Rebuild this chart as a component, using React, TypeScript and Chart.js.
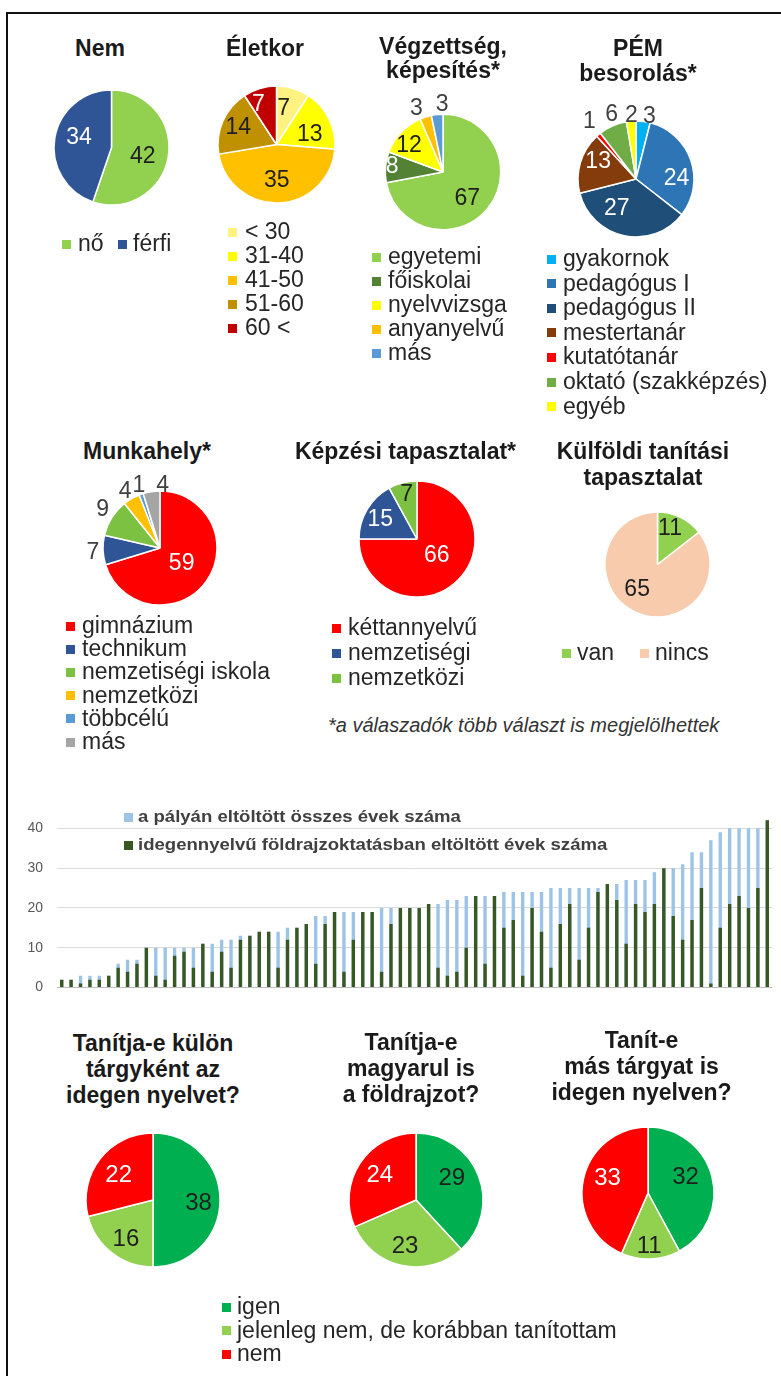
import React, { useEffect, useRef } from 'react';
import { Chart, registerables } from 'chart.js';

Chart.register(...registerables);

const FONT = '"Liberation Sans", Arial, Helvetica, sans-serif';
Chart.defaults.font.family = FONT;

// ---------- DATA ----------
const nemLabels = ['nő', 'férfi'];
const nemValues = [42, 34];

const eletkorLabels = ['< 30', '31-40', '41-50', '51-60', '60 <'];
const eletkorValues = [7, 13, 35, 14, 7];

const vegzLabels = ['egyetemi', 'főiskolai', 'nyelvvizsga', 'anyanyelvű', 'más'];
const vegzValues = [67, 8, 12, 3, 3];

const pemLabels = ['gyakornok', 'pedagógus I', 'pedagógus II', 'mestertanár', 'kutatótanár', 'oktató (szakképzés)', 'egyéb'];
const pemValues = [3, 24, 27, 13, 1, 6, 2];

const munkaLabels = ['gimnázium', 'technikum', 'nemzetiségi iskola', 'nemzetközi', 'többcélú', 'más'];
const munkaValues = [59, 7, 9, 4, 1, 4];

const kepzLabels = ['kéttannyelvű', 'nemzetiségi', 'nemzetközi'];
const kepzValues = [66, 15, 7];

const kulfLabels = ['van', 'nincs'];
const kulfValues = [11, 65];

const answerLabels = ['igen', 'jelenleg nem, de korábban tanítottam', 'nem'];
const q1Values = [38, 16, 22];
const q2Values = [29, 23, 24];
const q3Values = [32, 11, 33];

const barLegendLabels = [
  'a pályán eltöltött összes évek száma',
  'idegennyelvű földrajzoktatásban eltöltött évek száma',
];
const totalYears = [
  2, 2, 3, 3, 3, 3, 6, 7, 7, 10, 10, 10, 10, 10, 10, 11, 11, 12, 12, 13,
  13, 14, 14, 14, 15, 15, 16, 18, 18, 19, 19, 19, 19, 19, 20, 20, 20, 20, 20, 21,
  21, 22, 22, 23, 23, 23, 23, 24, 24, 24, 24, 24, 25, 25, 25, 25, 25, 25, 26, 26,
  27, 27, 27, 29, 30, 30, 31, 34, 34, 37, 39, 40, 40, 40, 40, 42,
];
const foreignYears = [
  2, 2, 1, 2, 2, 3, 5, 4, 6, 10, 3, 2, 8, 9, 5, 11, 4, 9, 5, 12,
  13, 14, 14, 5, 12, 15, 16, 6, 16, 19, 4, 12, 19, 19, 4, 16, 20, 20, 20, 21,
  5, 3, 4, 10, 23, 6, 23, 15, 17, 3, 20, 14, 5, 16, 21, 7, 15, 24, 26, 22,
  11, 21, 19, 21, 30, 18, 12, 17, 25, 1, 15, 21, 23, 20, 25, 42,
];
const teacherIds = totalYears.map((_, i) => String(i + 1));
const yTickValues = [0, 10, 20, 30, 40];

// ---------- STYLE ----------
const DARK = '#1F1F1F';
const WHITE = '#FFFFFF';
const GREEN_L = '#92D050';
const GREEN_M = '#7DC142';

type PieProps = {
  values: number[];
  colors: string[];
  textColors: string[];
  pos: number[];
  shift: number[];
  cx: number;
  cy: number;
  r: number;
  fontSize?: number;
};

function Pie({ values, colors, textColors, pos, shift, cx, cy, r, fontSize = 23 }: PieProps) {
  const ref = useRef<HTMLCanvasElement>(null);
  const pad = 32;
  const size = Math.ceil(2 * (r + pad));
  useEffect(() => {
    const labelPlugin = {
      id: 'pieLabels',
      afterDatasetsDraw(chart: any) {
        const ctx = chart.ctx;
        const meta = chart.getDatasetMeta(0);
        ctx.save();
        ctx.font = `${fontSize}px ${FONT}`;
        ctx.textAlign = 'center';
        ctx.textBaseline = 'alphabetic';
        meta.data.forEach((arc: any, i: number) => {
          const p = arc.getProps(['x', 'y', 'startAngle', 'endAngle', 'outerRadius'], true);
          const a = (p.startAngle + p.endAngle) / 2 + (shift[i] * Math.PI) / 180;
          const d = p.outerRadius * pos[i];
          ctx.fillStyle = textColors[i];
          ctx.fillText(String(values[i]), p.x + d * Math.cos(a), p.y + d * Math.sin(a) + fontSize * 0.36);
        });
        ctx.restore();
      },
    };
    const chart = new Chart(ref.current as HTMLCanvasElement, {
      type: 'pie',
      data: {
        labels: values.map(String),
        datasets: [
          {
            data: values,
            backgroundColor: colors,
            borderColor: '#FFFFFF',
            borderWidth: 1.5,
            radius: r,
          } as any,
        ],
      },
      options: {
        responsive: false,
        animation: false,
        events: [],
        layout: { padding: 0 },
        plugins: { legend: { display: false }, tooltip: { enabled: false } },
      } as any,
      plugins: [labelPlugin],
    });
    return () => chart.destroy();
  }, []);
  return (
    <canvas
      ref={ref}
      width={size}
      height={size}
      style={{ position: 'absolute', left: cx - size / 2, top: cy - size / 2, width: size, height: size }}
    />
  );
}

function Title({ lines, cx, y, lh = 25 }: { lines: string[]; cx: number; y: number; lh?: number }) {
  return (
    <div
      style={{
        position: 'absolute',
        left: cx - 200,
        width: 400,
        top: y - lh / 2,
        lineHeight: `${lh}px`,
        textAlign: 'center',
        fontWeight: 'bold',
        fontSize: 23,
        color: '#1A1A1A',
        whiteSpace: 'nowrap',
      }}
    >
      {lines.map((l, i) => (
        <div key={i}>{l}</div>
      ))}
    </div>
  );
}

function Item({ label, color, sx, tx, cy }: { label: string; color: string; sx: number; tx: number; cy: number }) {
  return (
    <>
      <div style={{ position: 'absolute', left: sx, top: cy - 4.5, width: 9, height: 9, background: color }} />
      <div
        style={{
          position: 'absolute',
          left: tx,
          top: cy - 13,
          lineHeight: '24px',
          fontSize: 23,
          color: '#262626',
          whiteSpace: 'nowrap',
        }}
      >
        {label}
      </div>
    </>
  );
}

function VLegend({ labels, colors, sx, tx, y0, step }: { labels: string[]; colors: string[]; sx: number; tx: number; y0: number; step: number }) {
  return (
    <>
      {labels.map((l, i) => (
        <Item key={i} label={l} color={colors[i]} sx={sx} tx={tx} cy={y0 + i * step} />
      ))}
    </>
  );
}

function BarChart() {
  const ref = useRef<HTMLCanvasElement>(null);
  useEffect(() => {
    const chart = new Chart(ref.current as HTMLCanvasElement, {
      type: 'bar',
      data: {
        labels: teacherIds,
        datasets: [
          {
            label: barLegendLabels[0],
            data: totalYears,
            backgroundColor: '#9DC3E6',
            order: 2,
            barPercentage: 0.36,
            categoryPercentage: 1,
          },
          {
            label: barLegendLabels[1],
            data: foreignYears,
            backgroundColor: '#385723',
            order: 1,
            barPercentage: 0.36,
            categoryPercentage: 1,
          },
        ],
      },
      options: {
        responsive: false,
        animation: false,
        events: [],
        layout: { padding: { top: 13.7, bottom: 3.5, left: 0, right: 9 } },
        plugins: { legend: { display: false }, tooltip: { enabled: false } },
        scales: {
          x: { display: false, stacked: true },
          y: {
            stacked: false,
            min: 0,
            max: 44,
            afterFit: (s: any) => {
              s.width = 57;
            },
            afterBuildTicks: (s: any) => {
              s.ticks = yTickValues.map((v) => ({ value: v }));
            },
            ticks: { padding: 14, color: '#595959', font: { family: FONT, size: 14 } },
            grid: {
              color: (c: any) => (c.tick && c.tick.value === 0 ? '#BFBFBF' : '#D9D9D9'),
              drawTicks: false,
              lineWidth: 1,
            },
            border: { display: false },
          },
        },
      } as any,
    });
    return () => chart.destroy();
  }, []);
  return (
    <canvas
      ref={ref}
      width={781}
      height={220}
      style={{ position: 'absolute', left: 0, top: 790, width: 781, height: 220 }}
    />
  );
}

function BarLegend() {
  const colors = ['#9DC3E6', '#385723'];
  const ys = [817, 845];
  return (
    <>
      {barLegendLabels.map((l, i) => (
        <React.Fragment key={i}>
          <div style={{ position: 'absolute', left: 124, top: ys[i] - 4.5, width: 9, height: 9, background: colors[i] }} />
          <div
            style={{
              position: 'absolute',
              left: 138,
              top: ys[i] - 10,
              lineHeight: '20px',
              fontSize: 16,
              fontWeight: 'bold',
              color: '#404040',
              whiteSpace: 'nowrap',
              transform: 'scaleX(1.16)',
              transformOrigin: 'left center',
            }}
          >
            {l}
          </div>
        </React.Fragment>
      ))}
    </>
  );
}

export default function App() {
  const nemColors = [GREEN_L, '#2F5597'];
  const eletkorColors = ['#FFF280', '#FFFF00', '#FFC000', '#BF9000', '#C00000'];
  const vegzColors = [GREEN_L, '#548235', '#FFFF00', '#FFC000', '#5B9BD5'];
  const pemColors = ['#00B0F0', '#2E75B6', '#1F4E79', '#843C0C', '#FF0000', '#70AD47', '#FFFF00'];
  const munkaColors = ['#FF0000', '#2F5597', GREEN_M, '#FFC000', '#5B9BD5', '#A5A5A5'];
  const kepzColors = ['#FF0000', '#2F5597', GREEN_M];
  const kulfColors = [GREEN_L, '#F8CBAD'];
  const answerColors = ['#00B050', GREEN_L, '#FF0000'];

  return (
    <div
      style={{
        position: 'absolute',
        left: 0,
        top: 0,
        width: 781,
        height: 1376,
        overflow: 'hidden',
        background: '#FFFFFF',
        fontFamily: FONT,
      }}
    >
      <div
        style={{
          position: 'absolute',
          left: 6,
          top: 12,
          width: 800,
          height: 1400,
          borderLeft: '2px solid #111',
          borderTop: '2px solid #111',
        }}
      />

      {/* Row 1 */}
      <Title lines={['Nem']} cx={100} y={48} />
      <Pie values={nemValues} colors={nemColors} textColors={[DARK, WHITE]} pos={[0.56, 0.6]} shift={[4, 10]} cx={111.7} cy={147.5} r={57.5} />
      <Item label={nemLabels[0]} color={nemColors[0]} sx={62} tx={78} cy={244} />
      <Item label={nemLabels[1]} color={nemColors[1]} sx={118} tx={133} cy={244} />

      <Title lines={['Életkor']} cx={265} y={48} />
      <Pie values={eletkorValues} colors={eletkorColors} textColors={[DARK, DARK, DARK, DARK, WHITE]} pos={[0.66, 0.6, 0.58, 0.73, 0.77]} shift={[-6, 7, 2, 3, -7]} cx={276.5} cy={144.5} r={58.5} />
      <VLegend labels={eletkorLabels} colors={eletkorColors} sx={228} tx={245} y0={232} step={24} />

      <Title lines={['Végzettség,', 'képesítés*']} cx={443} y={47} lh={23.5} />
      <Pie values={vegzValues} colors={vegzColors} textColors={[DARK, WHITE, DARK, '#404040', '#404040']} pos={[0.6, 0.89, 0.77, 1.23, 1.2]} shift={[6, 3, -3.5, -4.7, 5]} cx={442.5} cy={172} r={57.7} />
      <VLegend labels={vegzLabels} colors={vegzColors} sx={372} tx={388} y0={257} step={24} />

      <Title lines={['PÉM', 'besorolás*']} cx={638} y={48} lh={25} />
      <Pie values={pemValues} colors={pemColors} textColors={['#404040', WHITE, WHITE, WHITE, '#404040', '#404040', '#404040']} pos={[1.13, 0.7, 0.58, 0.73, 1.3, 1.21, 1.13]} shift={[4.6, 16, 23, 10, 2, 3.4, 0.7]} cx={636} cy={179} r={58} />
      <VLegend labels={pemLabels} colors={pemColors} sx={547} tx={563} y0={259} step={24.6} />

      {/* Row 2 */}
      <Title lines={['Munkahely*']} cx={147} y={451} />
      <Pie values={munkaValues} colors={munkaColors} textColors={[WHITE, '#404040', '#404040', '#404040', '#404040', '#404040']} pos={[0.45, 1.18, 1.23, 1.19, 1.18, 1.12]} shift={[-4, 0, 3, -1, 1, 11]} cx={160} cy={548} r={57} />
      <VLegend labels={munkaLabels} colors={munkaColors} sx={66} tx={82} y0={626} step={23.2} />

      <Title lines={['Képzési tapasztalat*']} cx={405.5} y={451} />
      <Pie values={kepzValues} colors={kepzColors} textColors={[WHITE, WHITE, DARK]} pos={[0.42, 0.73, 0.81]} shift={[-9, -1, 1.7]} cx={417} cy={539} r={58} />
      <VLegend labels={kepzLabels} colors={kepzColors} sx={332} tx={348} y0={628} step={25} />

      <Title lines={['Külföldi tanítási', 'tapasztalat']} cx={643} y={451} lh={26} />
      <Pie values={kulfValues} colors={kulfColors} textColors={[DARK, DARK]} pos={[0.75, 0.59]} shift={[-7.5, 15]} cx={657.5} cy={564} r={52.5} />
      <Item label={kulfLabels[0]} color={kulfColors[0]} sx={562} tx={577} cy={653} />
      <Item label={kulfLabels[1]} color={kulfColors[1]} sx={640} tx={655} cy={653} />

      <div
        style={{
          position: 'absolute',
          left: 328,
          top: 725 - 12,
          lineHeight: '24px',
          fontSize: 20,
          fontStyle: 'italic',
          color: '#333333',
          whiteSpace: 'nowrap',
        }}
      >
        *a válaszadók több választ is megjelölhettek
      </div>

      {/* Bar chart */}
      <BarChart />
      <BarLegend />

      {/* Bottom row */}
      <Title lines={['Tanítja-e külön', 'tárgyként az', 'idegen nyelvet?']} cx={153} y={1043} lh={26} />
      <Pie values={q1Values} colors={answerColors} textColors={[DARK, DARK, WHITE]} pos={[0.68, 0.69, 0.65]} shift={[2, -2, 0]} cx={153} cy={1200} r={67} fontSize={24} />

      <Title lines={['Tanítja-e', 'magyarul is', 'a földrajzot?']} cx={411} y={1042} lh={26} />
      <Pie values={q2Values} colors={answerColors} textColors={[DARK, DARK, WHITE]} pos={[0.64, 0.68, 0.67]} shift={[-12, 2, 3]} cx={416} cy={1200} r={67} fontSize={24} />

      <Title lines={['Tanít-e', 'más tárgyat is', 'idegen nyelven?']} cx={641.5} y={1040} lh={26} />
      <Pie values={q3Values} colors={answerColors} textColors={[DARK, DARK, WHITE]} pos={[0.63, 0.78, 0.66]} shift={[-11, 1, 10]} cx={648} cy={1193} r={66} fontSize={24} />

      <VLegend labels={answerLabels} colors={answerColors} sx={222} tx={237} y0={1307} step={23.5} />
    </div>
  );
}
